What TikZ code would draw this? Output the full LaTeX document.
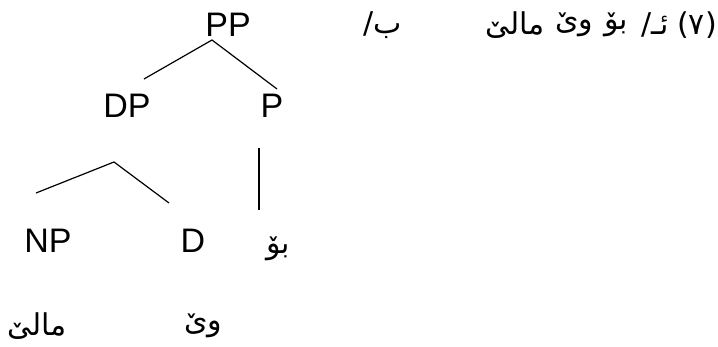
\documentclass[tikz,border=0pt]{standalone}
\usepackage{fontspec}
\setmainfont{Liberation Sans}
\newfontfamily\arabicfont[Script=Arabic]{DejaVu Sans}
\TeXXeTstate=1
\tikzset{
  lat/.style={font=\fontsize{34}{38}\selectfont, inner sep=0pt, anchor=base},
  ar/.style={font=\arabicfont\fontsize{30}{34}\selectfont, inner sep=0pt, anchor=center},
  br/.style={line width=1.2pt}
}
\begin{document}
\begin{tikzpicture}[x=1pt,y=-1pt]
\useasboundingbox (0,0) rectangle (718,347);
% category labels
\node[lat] (pp) at (228,37) {PP};
\node[lat] (dp) at (127,118) {DP};
\node[lat] (p) at (272,118) {P};
\node[lat] (np) at (48,253) {NP};
\node[lat] (d) at (193,253) {D};
% words
\node[ar] (bo) at (278,249) {\beginR بۆ\endR};
\node[ar] (mali) at (37,326) {\beginR مالێ\endR};
\node[ar] (we) at (203,326) {\beginR وێ\endR};
% branch points
\coordinate (ppb) at (212,40);
\coordinate (dpt) at (144,79);
\coordinate (pt) at (277,89);
\coordinate (dpb) at (114,162);
\coordinate (npt) at (36,193);
\coordinate (dt) at (169,203);
\coordinate (pb) at (259,148);
\coordinate (bot) at (259,210);
\draw[br] (dpt) -- (ppb) -- (pt);
\draw[br] (npt) -- (dpb) -- (dt);
\draw[br] (pb) -- (bot);
% example line
\node[ar] (num) at (697,25) {\arabicfont (٧)};
\node[ar] (a) at (655,25) {\beginR ئـ/\endR};
\node[ar] (w1) at (616,25) {\beginR بۆ\endR};
\node[ar] (w2) at (574,25) {\beginR وێ\endR};
\node[ar] (w3) at (515,25) {\beginR مالێ\endR};
\node[ar] (b) at (383,25) {\beginR ب/\endR};
\end{tikzpicture}
\end{document}
